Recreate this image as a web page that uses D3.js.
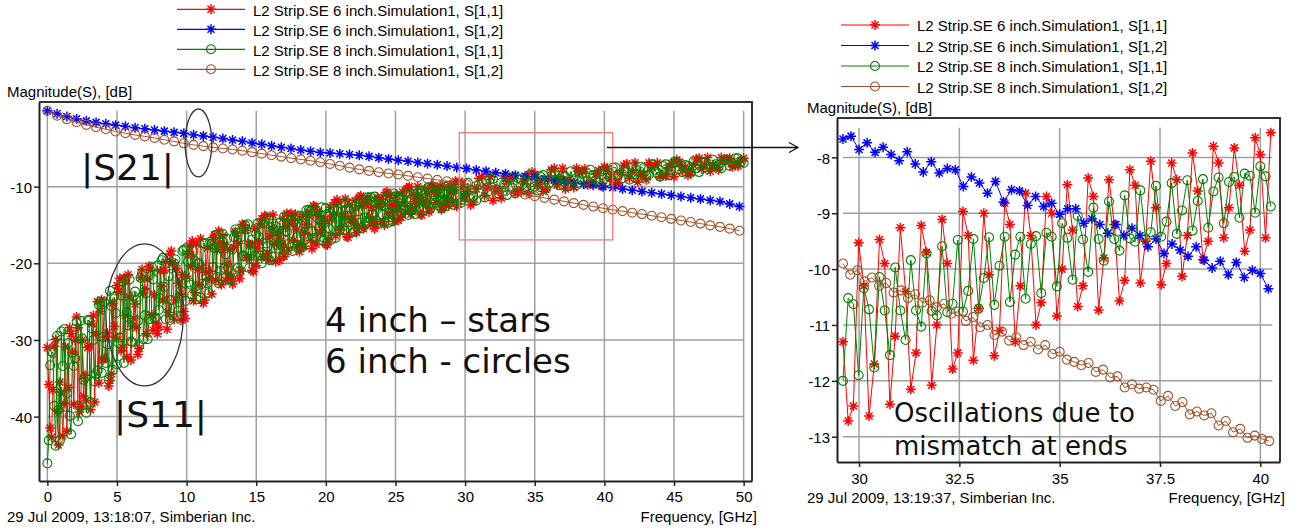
<!DOCTYPE html>
<html>
<head>
<meta charset="utf-8">
<script src="https://cdn.jsdelivr.net/npm/d3@7"></script>
<style>
  body { margin: 0; background: #fff; }
  svg text { font-family: "Liberation Sans", Arial, sans-serif; font-size: 15px; fill: #000; }
  svg text.note { font-family: "DejaVu Sans", Verdana, sans-serif; fill: #111; }
</style>
</head>
<body>
<svg id="chart" width="1301" height="531"></svg>
<script>
// Legend entries (same for both panels)
const seriesNames = [
  "L2 Strip.SE 6 inch.Simulation1, S[1,1]",
  "L2 Strip.SE 6 inch.Simulation1, S[1,2]",
  "L2 Strip.SE 8 inch.Simulation1, S[1,1]",
  "L2 Strip.SE 8 inch.Simulation1, S[1,2]"
];
const seriesColors = ["#ff0000", "#0000ff", "#008000", "#a0522d"];
const seriesMarkers = ["star", "star", "circle", "circle"];

// ---- full sweep, 0..50 GHz ----
const s21Step = 0.7;   // GHz between samples
const s21_6in = [-0.10,-0.50,-0.85,-1.15,-1.42,-1.62,-1.80,-1.98,-2.12,-2.32,
  -2.46,-2.62,-2.76,-2.92,-3.05,-3.22,-3.38,-3.55,-3.72,-3.92,
  -4.08,-4.30,-4.48,-4.68,-4.86,-5.02,-5.22,-5.38,-5.55,-5.62,
  -5.70,-5.80,-5.92,-6.05,-6.22,-6.38,-6.55,-6.70,-6.85,-7.00,
  -7.15,-7.32,-7.50,-7.65,-7.82,-7.98,-8.18,-8.32,-8.50,-8.65,
  -8.82,-8.98,-9.15,-9.32,-9.50,-9.66,-9.82,-10.00,-10.15,-10.30,
  -10.48,-10.62,-10.80,-10.95,-11.12,-11.28,-11.45,-11.60,-11.78,-11.95,
  -12.25,-12.60];
const s21_8in = [-0.10,-0.75,-1.20,-1.60,-1.95,-2.25,-2.52,-2.80,-3.02,-3.25,
  -3.45,-3.65,-3.88,-4.10,-4.35,-4.55,-4.72,-4.88,-5.02,-5.15,
  -5.32,-5.50,-5.70,-5.90,-6.08,-6.28,-6.45,-6.62,-6.82,-7.05,
  -7.28,-7.52,-7.75,-7.95,-8.12,-8.28,-8.42,-8.60,-8.78,-8.95,
  -9.12,-9.30,-9.50,-9.70,-9.92,-10.15,-10.38,-10.60,-10.82,-11.03,
  -11.25,-11.47,-11.70,-11.92,-12.15,-12.38,-12.60,-12.82,-13.02,-13.20,
  -13.40,-13.58,-13.80,-14.00,-14.20,-14.42,-14.62,-14.82,-15.05,-15.25,
  -15.48,-15.75];

// S11, three interleaved sample sets:
//   s11_*      at 0, 0.4, 0.8 ... 50 GHz
//   s11_*_mid  at 0.2, 0.6, 1.0 ... 49.8 GHz
//   s11_*_fine at 0.1, 0.3, 0.5 ... 29.9 GHz (wide part of the band)
const s11_6in = [-31.0,-36.5,-43.7,-38.3,-28.4,-30.0,-38.7,-37.9,-27.9,-25.0,
  -32.6,-36.0,-28.2,-22.0,-26.8,-32.6,-28.4,-20.8,-22.1,-28.7,
  -28.3,-20.9,-18.8,-24.8,-27.4,-21.7,-17.1,-20.8,-25.2,-22.0,
  -16.3,-17.3,-22.2,-21.8,-16.4,-14.9,-19.2,-21.1,-17.1,-13.8,
  -16.5,-19.8,-17.5,-13.5,-14.3,-18.0,-17.8,-13.8,-12.6,-16.0,
  -17.5,-14.3,-11.7,-13.9,-16.6,-14.8,-11.4,-12.0,-15.0,-14.9,
  -11.6,-10.7,-13.3,-14.4,-12.0,-10.0,-11.6,-13.6,-12.3,-9.9,
  -10.3,-12.6,-12.5,-10.0,-9.3,-11.4,-12.4,-10.3,-8.7,-10.1,
  -11.8,-10.6,-8.6,-8.9,-10.9,-10.7,-8.7,-8.1,-9.8,-10.6,
  -9.0,-7.6,-8.9,-10.3,-9.4,-7.6,-8.0,-9.8,-9.7,-7.9,
  -7.4,-9.0,-9.7,-8.2,-7.0,-8.1,-9.4,-8.5,-6.9,-7.2,
  -8.7,-8.6,-7.0,-6.5,-7.9,-8.5,-7.2,-6.3,-7.1,-8.0,
  -7.3,-6.2,-6.4,-7.4,-7.3,-6.3];
const s11_6in_mid = [-41.5,-29.9,-36.8,-41.9,-31.6,-28.4,-37.3,-30.8,-38.1,-26.3,
  -29.6,-34.4,-22.9,-31.0,-21.5,-27.2,-31.1,-23.3,-20.9,-27.8,
  -23.0,-28.6,-19.9,-22.6,-26.3,-17.7,-23.8,-16.8,-21.2,-24.0,
  -18.2,-16.4,-21.4,-17.9,-22.0,-15.7,-17.6,-20.3,-14.2,-18.7,
  -13.7,-16.8,-19.1,-14.9,-13.6,-17.5,-14.9,-18.1,-13.2,-14.8,
  -16.9,-12.1,-15.7,-11.6,-14.2,-16.0,-12.5,-11.5,-14.6,-12.6,
  -15.0,-11.2,-12.4,-14.0,-10.3,-12.9,-10.0,-11.9,-13.3,-10.7,
  -9.9,-12.3,-10.7,-12.6,-9.7,-10.6,-12.0,-8.9,-11.2,-8.7,
  -10.3,-11.5,-9.3,-8.6,-10.6,-9.3,-10.9,-8.4,-9.2,-10.4,
  -7.8,-9.8,-7.6,-9.1,-10.1,-8.2,-7.7,-9.5,-8.4,-9.9,
  -7.7,-8.4,-9.5,-7.2,-8.9,-6.9,-8.2,-9.1,-7.5,-6.9,
  -8.5,-7.5,-8.7,-6.8,-7.4,-8.2,-6.4,-7.7,-6.2,-7.2,
  -7.8,-6.6,-6.3,-7.2,-6.6];
const s11_6in_fine = [-35.8,-42.7,-30.8,-39.3,-35.5,-42.5,-30.9,-36.2,-29.2,-38.4,
  -27.0,-39.4,-30.0,-34.6,-31.0,-39.1,-26.8,-29.2,-35.6,-24.8,
  -32.4,-29.1,-35.3,-25.2,-29.6,-23.7,-31.4,-21.9,-32.2,-24.4,
  -28.2,-25.3,-31.9,-21.9,-23.9,-29.2,-20.4,-26.7,-24.1,-29.2,
  -21.0,-24.8,-19.8,-26.4,-18.4,-27.3,-20.7,-24.0,-21.5,-27.2,
  -18.8,-20.4,-24.9,-17.5,-22.8,-20.6,-24.8,-18.0,-21.0,-16.9,
  -22.2,-15.8,-22.8,-17.5,-20.1,-18.2,-22.7,-15.9,-17.4,-21.0,
  -15.0,-19.3,-17.5,-20.9,-15.5,-18.0,-14.8,-19.1,-13.9,-19.6,
  -15.4,-17.5,-16.0,-19.6,-14.2,-15.3,-18.3,-13.5,-17.0,-15.6,
  -18.5,-13.9,-16.0,-13.3,-17.0,-12.5,-17.5,-13.8,-15.7,-14.3,
  -17.6,-12.7,-13.7,-16.4,-12.1,-15.2,-13.9,-16.5,-12.4,-14.3,
  -11.8,-15.1,-11.2,-15.5,-12.3,-13.9,-12.7,-15.5,-11.4,-12.3,
  -14.5,-10.8,-13.5,-12.4,-14.5,-11.1,-12.6,-10.7,-13.3,-10.2,
  -13.6,-11.0,-12.3,-11.4,-13.7,-10.3,-11.0,-12.9,-9.9,-12.1,
  -11.2,-13.0,-10.1,-11.4,-9.8,-12.0,-9.3,-12.3,-10.1,-11.2];
const s11_8in = [-46.1,-31.7,-39.1,-28.6,-39.9,-32.4,-27.5,-39.5,-28.5,-34.0,
  -29.6,-35.2,-24.4,-29.7,-22.2,-30.2,-24.8,-21.3,-29.9,-22.1,
  -26.1,-23.1,-27.4,-19.5,-23.6,-18.0,-24.1,-20.1,-17.4,-23.9,
  -18.0,-21.0,-18.8,-22.0,-16.0,-19.1,-14.9,-19.5,-16.6,-14.6,
  -19.6,-15.2,-17.6,-15.9,-18.4,-13.9,-16.3,-13.0,-16.7,-14.4,
  -12.8,-16.9,-13.2,-15.2,-13.8,-15.9,-12.0,-14.1,-11.4,-14.4,
  -12.5,-11.2,-14.5,-11.6,-13.1,-12.0,-13.6,-10.6,-12.2,-10.1,
  -12.4,-10.9,-9.9,-12.4,-10.2,-11.4,-10.5,-11.8,-9.4,-10.7,
  -9.0,-10.9,-9.7,-8.9,-10.9,-9.1,-10.1,-9.4,-10.5,-8.5,
  -9.6,-8.1,-9.8,-8.7,-8.0,-9.8,-8.3,-9.2,-8.5,-9.5,
  -7.8,-8.8,-7.5,-9.0,-8.0,-7.4,-9.0,-7.6,-8.4,-7.8,
  -8.7,-7.1,-7.9,-6.8,-8.1,-7.3,-6.7,-8.1,-6.9,-7.5,
  -7.1,-7.6,-6.5,-7.0,-6.3,-6.9];
const s11_8in_mid = [-33.3,-43.8,-28.9,-37.0,-31.7,-40.6,-35.2,-27.5,-35.4,-25.0,
  -33.0,-25.6,-33.2,-22.4,-28.1,-24.3,-30.7,-26.8,-21.4,-27.1,
  -19.6,-25.6,-20.3,-26.2,-18.2,-22.5,-19.7,-24.5,-21.6,-17.5,
  -21.8,-16.2,-20.6,-16.6,-21.0,-15.0,-18.3,-16.2,-20.0,-17.8,
  -14.8,-18.1,-13.9,-17.4,-14.3,-17.8,-13.1,-15.8,-14.1,-17.1,
  -15.4,-12.9,-15.7,-12.1,-15.0,-12.4,-15.4,-11.4,-13.6,-12.3,
  -14.7,-13.3,-11.3,-13.5,-10.7,-12.9,-10.9,-13.1,-10.1,-11.8,
  -10.8,-12.6,-11.5,-10.0,-11.7,-9.5,-11.3,-9.7,-11.4,-9.0,
  -10.4,-9.5,-11.1,-10.2,-8.9,-10.3,-8.5,-10.0,-8.7,-10.2,
  -8.1,-9.3,-8.6,-9.9,-9.2,-8.1,-9.3,-7.8,-9.1,-8.0,
  -9.3,-7.5,-8.5,-7.9,-9.1,-8.4,-7.4,-8.6,-7.1,-8.3,
  -7.3,-8.5,-6.8,-7.8,-7.2,-8.2,-7.6,-6.8,-7.7,-6.5,
  -7.4,-6.6,-7.3,-6.3,-6.8];
const s11_8in_fine = [-43.1,-31.5,-38.6,-29.5,-43.1,-33.4,-38.7,-30.4,-42.3,-33.4,
  -27.6,-38.6,-29.8,-34.9,-27.4,-38.1,-30.0,-34.5,-25.4,-34.3,
  -25.1,-30.6,-23.6,-33.9,-26.5,-30.4,-24.2,-33.0,-26.4,-22.1,
  -30.3,-23.7,-27.5,-21.9,-29.9,-23.9,-27.3,-20.5,-27.2,-20.3,
  -24.6,-19.3,-27.3,-21.7,-24.8,-20.0,-26.9,-21.8,-18.4,-24.9,
  -19.8,-22.8,-18.4,-24.7,-20.0,-22.7,-17.4,-22.6,-17.2,-20.5,
  -16.3,-22.6,-18.1,-20.6,-16.8,-22.2,-18.2,-15.6,-20.6,-16.6,
  -19.0,-15.6,-20.6,-16.9,-19.0,-14.8,-19.0,-14.8,-17.4,-14.2,
  -19.1,-15.7,-17.6,-14.7,-19.0,-15.8,-13.8,-17.8,-14.6,-16.6,
  -13.8,-17.9,-14.9,-16.7,-13.2,-16.7,-13.2,-15.4,-12.7,-16.8,
  -13.9,-15.6,-13.0,-16.7,-14.0,-12.2,-15.7,-12.9,-14.6,-12.2,
  -15.8,-13.2,-14.7,-11.7,-14.7,-11.7,-13.6,-11.3,-14.8,-12.3,
  -13.7,-11.6,-14.7,-12.4,-10.9,-13.8,-11.5,-12.9,-10.9,-13.7,
  -11.7,-12.9,-10.5,-12.9,-10.5,-12.0,-10.2,-12.9,-11.0,-12.1,
  -10.4,-12.8,-11.0,-9.9,-12.1,-10.4,-11.4,-9.9,-12.1,-10.5];

// ---- zoomed sweep, 29.6..40.3 GHz ----
const zoomStart = 29.6;
const zoomS11Step = 0.13;
const zoomS11_6in = [-11.3,-12.72,-12.45,-9.53,-10.3,-12.63,-11.7,-9.47,-9.9,-12.42,
  -11.2,-9.26,-10.4,-12.15,-11.5,-9.22,-9.7,-12.08,-11.0,-9.11,
  -9.9,-11.79,-11.5,-8.97,-9.4,-11.63,-10.7,-9.0,-10.1,-11.55,
  -11.1,-8.82,-9.2,-11.3,-10.3,-8.64,-9.4,-11.0,-10.6,-8.7,
  -9.0,-10.84,-10.0,-8.49,-9.3,-10.67,-10.3,-8.37,-8.7,-10.73,
  -9.8,-8.4,-9.2,-10.57,-10.2,-8.22,-8.5,-10.25,-9.5,-8.07,
  -8.9,-10.28,-9.9,-8.1,-8.4,-10.13,-9.4,-7.92,-8.6,-9.83,
  -9.5,-7.8,-8.1,-9.44,-8.9,-7.83,-8.5,-9.68,-9.3,-7.65,
  -7.95,-9.44,-7.56];
const zoomS11_8in = [-12.0,-10.52,-10.63,-11.90,-10.34,-10.72,-11.76,-10.14,-10.74,-11.54,
  -9.97,-10.74,-11.27,-9.84,-10.74,-11.03,-9.72,-10.75,-10.83,-9.59,
  -10.77,-10.62,-9.48,-10.76,-10.39,-9.46,-10.71,-10.16,-9.43,-10.64,
  -9.94,-9.42,-10.59,-9.74,-9.42,-10.53,-9.55,-9.41,-10.43,-9.35,
  -9.42,-10.31,-9.18,-9.44,-10.19,-9.05,-9.47,-10.05,-8.90,-9.46,
  -9.85,-8.79,-9.46,-9.67,-8.68,-9.45,-9.51,-8.59,-9.46,-9.34,
  -8.51,-9.42,-9.15,-8.46,-9.37,-8.95,-8.41,-9.31,-8.78,-8.39,
  -9.26,-8.61,-8.36,-9.18,-8.44,-8.35,-9.08,-8.29,-8.33,-8.99,
  -8.16,-8.34,-8.88];
const zoomS21_6inStep = 0.2;
const zoomS21_6in = [-7.67,-7.62,-7.86,-7.74,-7.91,-7.82,-7.95,-8.06,-7.90,-8.12,
  -8.26,-8.08,-8.28,-8.20,-8.22,-8.52,-8.35,-8.46,-8.64,-8.43,
  -8.80,-8.58,-8.60,-8.86,-8.70,-8.88,-8.82,-9.02,-8.92,-8.92,
  -9.18,-9.10,-9.20,-9.36,-9.20,-9.40,-9.27,-9.40,-9.60,-9.46,
  -9.72,-9.55,-9.66,-9.77,-9.60,-9.84,-9.98,-9.86,-10.10,-9.88,
  -10.15,-10.02,-10.08,-10.35];
const zoomS21_8inStep = 0.18;
const zoomS21_8in = [-9.90,-10.10,-10.02,-10.22,-10.15,-10.30,-10.25,-10.42,-10.38,-10.52,
  -10.45,-10.60,-10.56,-10.68,-10.62,-10.80,-10.76,-10.93,-10.86,-11.04,
  -11.00,-11.18,-11.12,-11.28,-11.22,-11.36,-11.30,-11.44,-11.36,-11.52,
  -11.48,-11.62,-11.66,-11.72,-11.68,-11.84,-11.80,-11.94,-11.92,-12.12,
  -12.06,-12.14,-12.12,-12.16,-12.36,-12.27,-12.45,-12.38,-12.60,-12.55,
  -12.62,-12.58,-12.80,-12.72,-12.92,-12.86,-13.02,-12.98,-13.04,-13.08];

// axis ticks
const leftXTicks = [0, 5, 10, 15, 20, 25, 30, 35, 40, 45, 50];
const leftYTicks = [-10, -20, -30, -40];
const rightXTicks = [30, 32.5, 35, 37.5, 40];
const rightYTicks = [-8, -9, -10, -11, -12, -13];

const svg = d3.select("#chart");

const markerPath = {
  star: "M-5,0H5M0,-5V5M-3.5,-3.5L3.5,3.5M-3.5,3.5L3.5,-3.5",
  circle: "M4.5,0A4.5,4.5 0 1,1 -4.5,0A4.5,4.5 0 1,1 4.5,0Z"
};

function drawMarker(sel, kind, color) {
  sel.attr("d", markerPath[kind])
    .attr("fill", "none")
    .attr("stroke", color)
    .attr("stroke-width", kind === "star" ? 1.5 : 1.1);
}

function drawLegend(x0, y0, dy) {
  const lg = svg.append("g");
  seriesNames.forEach((name, i) => {
    const yy = y0 + i * dy;
    lg.append("line").attr("x1", x0).attr("x2", x0 + 68).attr("y1", yy).attr("y2", yy)
      .attr("stroke", seriesColors[i]).attr("stroke-width", 1.2);
    lg.append("path").attr("transform", `translate(${x0 + 34},${yy})`)
      .call(drawMarker, seriesMarkers[i], seriesColors[i]);
    lg.append("text").attr("x", x0 + 76).attr("y", yy + 6.3).text(name);
  });
}

function drawPanel(p) {
  const x = d3.scaleLinear().domain(p.xDomain).range([p.left, p.right]);
  const y = d3.scaleLinear().domain(p.yDomain).range([p.bottom, p.top]);
  const g = svg.append("g");

  // grid
  g.append("g").selectAll("line").data(p.xTicks).join("line")
    .attr("x1", d => x(d)).attr("x2", d => x(d))
    .attr("y1", y(p.gridTop)).attr("y2", p.bottom)
    .attr("stroke", "#a0a0a0").attr("stroke-width", 1.5);
  g.append("g").selectAll("line").data(p.yTicks).join("line")
    .attr("x1", x(p.gridX[0])).attr("x2", x(p.gridX[1]))
    .attr("y1", d => y(d)).attr("y2", d => y(d))
    .attr("stroke", "#a0a0a0").attr("stroke-width", 1.5);

  // top + right frame
  g.append("path").attr("d", `M${p.left},${p.top}H${p.right}V${p.bottom}`)
    .attr("fill", "none").attr("stroke", "#333").attr("stroke-width", 2);

  // axes
  const xa = g.append("g").attr("transform", `translate(0,${p.bottom})`)
    .call(d3.axisBottom(x).tickValues(p.xTicks).tickSize(5).tickSizeOuter(0)
      .tickPadding(p.xPad).tickFormat(d => String(d)));
  const ya = g.append("g").attr("transform", `translate(${p.left},0)`)
    .call(d3.axisLeft(y).tickValues(p.yTicks).tickSize(5).tickSizeOuter(0)
      .tickPadding(2).tickFormat(d => String(d)));
  [xa, ya].forEach(a => {
    a.attr("font-family", null).attr("font-size", null);
    a.select(".domain").attr("stroke", "#222").attr("stroke-width", 2);
    a.selectAll(".tick line").attr("stroke", "#222").attr("stroke-width", 1.5);
  });
  ya.selectAll(".tick text").attr("dy", "0.38em");

  // series: every sample set becomes points, then sorted by frequency
  p.series.forEach(s => {
    const pts = s.sets
      .flatMap(set => set.values.map((v, i) => ({ f: set.start + set.step * i, v })))
      .sort((a, b) => a.f - b.f);
    g.append("path").datum(pts)
      .attr("fill", "none").attr("stroke", s.color).attr("stroke-width", 1)
      .attr("d", d3.line().x(d => x(d.f)).y(d => y(d.v)));
    g.append("g").selectAll("path").data(pts).join("path")
      .attr("transform", d => `translate(${x(d.f)},${y(d.v)})`)
      .call(drawMarker, s.marker, s.color);
  });

  // titles
  svg.append("text").attr("x", p.yTitle[0]).attr("y", p.yTitle[1]).text("Magnitude(S), [dB]");
  svg.append("text").attr("x", p.xTitle[0]).attr("y", p.xTitle[1])
    .attr("text-anchor", "end").text("Frequency, [GHz]");
  svg.append("text").attr("x", p.stamp[0]).attr("y", p.stamp[1]).text(p.stampText);

  return { x, y, g };
}

// ---------- left panel: full band ----------
const left = drawPanel({
  xDomain: [-0.6, 50.6], yDomain: [-48.4, 1.04],
  left: 39, right: 752, top: 102, bottom: 481,
  xTicks: leftXTicks, yTicks: leftYTicks, gridTop: -0.1, gridX: [0, 50], xPad: 5,
  yTitle: [7, 97], xTitle: [757, 522], stamp: [7, 522],
  stampText: "29 Jul 2009, 13:18:07, Simberian Inc.",
  series: [
    { color: seriesColors[0], marker: "star", sets: [
      { start: 0, step: 0.4, values: s11_6in },
      { start: 0.2, step: 0.4, values: s11_6in_mid },
      { start: 0.1, step: 0.2, values: s11_6in_fine }] },
    { color: seriesColors[1], marker: "star", sets: [{ start: 0, step: s21Step, values: s21_6in }] },
    { color: seriesColors[2], marker: "circle", sets: [
      { start: 0, step: 0.4, values: s11_8in },
      { start: 0.2, step: 0.4, values: s11_8in_mid },
      { start: 0.1, step: 0.2, values: s11_8in_fine }] },
    { color: seriesColors[3], marker: "circle", sets: [{ start: 0, step: s21Step, values: s21_8in }] }
  ]
});

// ---------- right panel: zoom of 29.6..40.3 GHz ----------
const right = drawPanel({
  xDomain: [29.451, 40.49], yDomain: [-13.453, -7.295],
  left: 837, right: 1280, top: 118, bottom: 462,
  xTicks: rightXTicks, yTicks: rightYTicks, gridTop: -7.47, gridX: [29.6, 40.3], xPad: 6,
  yTitle: [807, 113], xTitle: [1285, 503], stamp: [807, 503],
  stampText: "29 Jul 2009, 13:19:37, Simberian Inc.",
  series: [
    { color: seriesColors[0], marker: "star", sets: [{ start: zoomStart, step: zoomS11Step, values: zoomS11_6in }] },
    { color: seriesColors[1], marker: "star", sets: [{ start: zoomStart, step: zoomS21_6inStep, values: zoomS21_6in }] },
    { color: seriesColors[2], marker: "circle", sets: [{ start: zoomStart, step: zoomS11Step, values: zoomS11_8in }] },
    { color: seriesColors[3], marker: "circle", sets: [{ start: zoomStart, step: zoomS21_8inStep, values: zoomS21_8in }] }
  ]
});

drawLegend(177, 9.3, 20);
drawLegend(841, 25, 20.5);

// ---------- annotations ----------
const lx = left.x, ly = left.y;
// zoom window and arrow
svg.append("rect")
  .attr("x", lx(29.58)).attr("y", ly(-2.96))
  .attr("width", lx(40.6) - lx(29.58)).attr("height", ly(-16.95) - ly(-2.96))
  .attr("fill", "none").attr("stroke", "#ff7070").attr("stroke-width", 1.2);
svg.append("path").attr("d", "M607,147.5H798M789,142.5L798,147.5L789,152.5")
  .attr("fill", "none").attr("stroke", "#111").attr("stroke-width", 1.3);

// ellipses
[[10.85, -4.3, 0.96, 4.43], [6.98, -26.73, 2.78, 9.26]].forEach(([f, v, rf, rv]) => {
  svg.append("ellipse")
    .attr("cx", lx(f)).attr("cy", ly(v))
    .attr("rx", lx(f + rf) - lx(f)).attr("ry", ly(v - rv) - ly(v))
    .attr("fill", "none").attr("stroke", "#333").attr("stroke-width", 1.3);
});

const notes = [
  { text: "|S21|", x: 81, y: 180, size: 36 },
  { text: "|S11|", x: 114, y: 427, size: 36 },
  { text: "4 inch \u2013 stars", x: 325, y: 332, size: 34 },
  { text: "6 inch - circles", x: 325, y: 373, size: 34 },
  { text: "Oscillations due to", x: 894, y: 421.5, size: 26 },
  { text: "mismatch at ends", x: 894, y: 455, size: 26 }
];
svg.selectAll("text.note").data(notes).join("text")
  .attr("class", "note")
  .attr("x", d => d.x).attr("y", d => d.y)
  .style("font-size", d => d.size + "px")
  .text(d => d.text);
</script>
</body>
</html>
